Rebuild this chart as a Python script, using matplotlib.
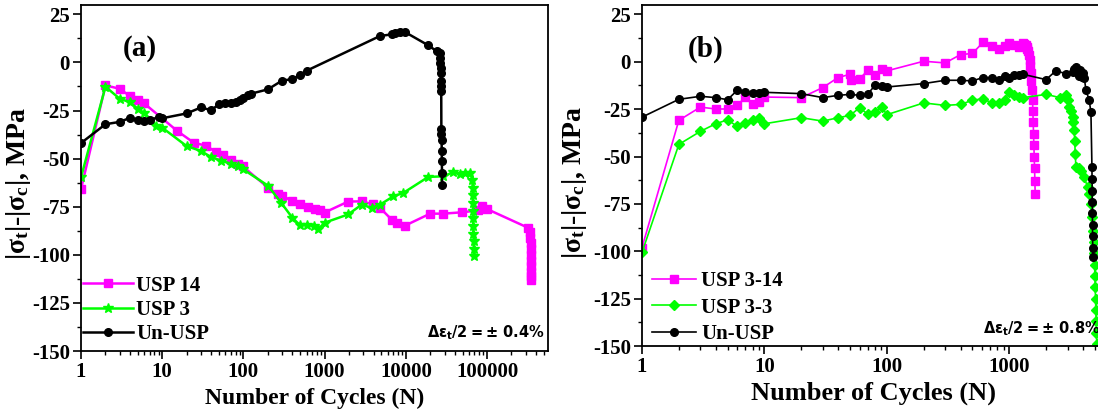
import matplotlib
matplotlib.use('Agg')
import matplotlib.pyplot as plt
from matplotlib.ticker import LogLocator, FuncFormatter, MultipleLocator, NullFormatter

plt.rcParams['font.family'] = 'Liberation Serif'
plt.rcParams['font.weight'] = 'bold'
plt.rcParams['axes.unicode_minus'] = False
plt.rcParams['mathtext.fontset'] = 'custom'
plt.rcParams['mathtext.rm'] = 'Liberation Serif:bold'
plt.rcParams['mathtext.it'] = 'Liberation Serif:bold'
plt.rcParams['mathtext.bf'] = 'Liberation Serif:bold'

MAG = '#ff00ff'
GRN = '#00ff00'

# ---- panel (a): strain amplitude 0.4 %
a_usp14_n = [1, 2, 3, 4, 5, 6, 15.4, 24.6, 34.3, 46, 56, 70, 85, 98, 200, 265, 300, 400, 500,
             620, 760, 880, 1000, 1950, 2860, 3900, 4810, 6700, 7700, 9800, 19900, 28900, 48700,
             78200, 86000, 98900, 323000, 340000, 343000, 345000, 346000, 347000, 348000,
             349000, 350000, 351000, 352000]
a_usp14_v = [-65.8, -11.9, -13.7, -17.5, -19.6, -21.3, -35.7, -41.8, -43.2, -46.6, -48, -50.6,
             -52.7, -54, -65, -68.5, -69.3, -72, -73.7, -75, -76, -76.7, -78, -72.3, -72.2,
             -73.7, -75.6, -81.7, -83.4, -84.8, -78.6, -78.6, -77.9, -76.9, -74.8, -76.1, -86,
             -88, -91, -94, -97, -100, -103, -106, -109, -111, -113]

a_usp3_n = [1, 2, 3, 4, 5, 6, 8.5, 10, 20, 30, 40, 53, 70, 85, 98, 200, 290, 400, 500, 600, 740,
            840, 1000, 1950, 2860, 3800, 4810, 7020, 9330, 18900, 28900, 38400, 46500, 53600,
            61700, 66000, 66300, 66600, 66900, 67200, 67500, 67800, 68100, 68400, 68700, 69000]
a_usp3_v = [-59.7, -12.6, -18.9, -20.6, -24.1, -26.2, -32.8, -33.9, -43.5, -46, -49.2, -51,
            -52.7, -54, -55.4, -64, -72.8, -80.7, -84.7, -84.5, -84.9, -86.5, -83.3, -79,
            -73.9, -75.6, -73.9, -69.6, -67.8, -59.5, -59.2, -57.1, -57.8, -57.4, -57.6, -60.9,
            -65, -69, -73, -77, -81, -85, -89, -93, -97, -100.8]

a_un_n = [1, 2, 3, 4, 5, 6, 7, 9, 10, 20, 30, 40, 50, 60, 70, 80, 90, 100, 115, 125, 200, 300,
          400, 500, 600, 4810, 6700, 7360, 8490, 9770, 18900, 23900, 26300, 26500, 26700,
          26900, 27000, 27100, 27200, 27300, 27400, 27500, 27600, 27700, 27800, 27900, 28000]
a_un_v = [-41.9, -32.1, -30.9, -28.8, -30, -30.4, -29.7, -28.6, -29, -26.5, -23.4, -24.8,
          -21.8, -21.3, -21.3, -20.4, -19.5, -18.3, -16.9, -16.2, -14, -9.4, -8.7, -6.4, -4.3,
          13.75, 14.6, 15.5, 15.8, 15.8, 8.9, 5.9, 5.1, 2.5, -0.1, -2.7, -5.3, -9.7, -12.3,
          -14.9, -34.8, -37.4, -40.1, -46.1, -51.4, -57.4, -63.5]

# ---- panel (b): strain amplitude 0.8 %
b_usp314_n = [1, 2, 3, 4, 5, 6, 7, 8, 9, 10, 20, 30, 40, 50, 51, 60, 70, 80, 91, 100, 200, 300,
              400, 500, 610, 720, 820, 920, 1000, 1100, 1200, 1300, 1330, 1350, 1370, 1390, 1410,
              1430, 1450, 1470, 1490, 1505, 1520, 1535, 1550, 1560, 1570, 1580, 1590, 1600,
              1610, 1620, 1630]
b_usp314_v = [-98, -30.9, -23.9, -24.9, -24.9, -23, -18.6, -22.1, -21.2, -18.6, -18.9, -13.6,
              -8.3, -6.6, -9.75, -8.9, -4.5, -7.1, -3.9, -4.8, 0.3, -0.6, 3.8, 4.4, 10.2, 8.2, 7,
              8.2, 9.7, 8.8, 7.9, 9.7, 9.5, 8.5, 9, 8, 7, 5.5, 3.5, 1, -2, -6, -10, -15, -20, -26,
              -32, -38, -44, -50, -56, -63, -70]

b_usp33_n = [1, 2, 3, 4, 5, 6, 7, 8, 9, 10, 20, 30, 40, 50, 60, 70, 80, 91, 100, 200, 300, 400,
             500, 610, 720, 820, 920, 1000, 1100, 1200, 1300, 2000, 2600, 2905, 3000, 3096, 3200,
             3296, 3350, 3397, 3430, 3462, 3506, 3700, 3850, 4100, 4370, 4500, 4650, 4760, 4860,
             4900, 4950, 4980, 5010, 5040, 5070, 5100, 5130, 5160, 5190, 5220]
b_usp33_v = [-100.6, -43.6, -36.7, -32.7, -30.6, -34.1, -32.3, -30.6, -29.5, -32.7, -29.5,
             -31.3, -29.5, -28.3, -24.2, -27.7, -26.5, -23.9, -27.9, -21.7, -23, -22.5, -20.3,
             -19.5, -21.7, -22, -20, -16, -17.3, -18.6, -18.9, -17.2, -18.9, -17.7, -20, -23.9,
             -26, -29.2, -32, -36.2, -42, -48.6, -55.6, -56, -57.4, -60.9, -66.2, -70, -75, -82,
             -89.2, -95, -101, -107, -113, -119, -125, -131, -137, -143, -149, -155]

b_un_n = [1, 2, 3, 4, 5, 6, 7, 8, 9, 10, 20, 30, 40, 50, 60, 70, 80, 91, 100, 200, 300, 400, 500,
          610, 720, 820, 920, 1000, 1100, 1200, 1300, 2000, 2400, 2900, 3300, 3400, 3500, 3600,
          3700, 3800, 3900, 4000, 4100, 4240, 4500, 4650, 4740, 4750, 4760, 4770, 4780, 4790,
          4800, 4810, 4820]
b_un_v = [-29.2, -19.8, -18.2, -18.9, -20, -15, -15.9, -16.3, -16.5, -16.1, -16.8, -18.9,
          -17.7, -17.2, -17.7, -17, -12.4, -12.7, -13.3, -11.5, -9.75, -9.75, -10.1, -8.3,
          -8.3, -9.4, -7.6, -8.3, -7.1, -7.1, -6.6, -9.4, -4.8, -6.2, -5.5, -3.6, -3, -5, -7.5,
          -4.5, -8, -6, -8.5, -15, -20.3, -26.5, -55.6, -62, -68, -74, -80, -86, -92, -98, -103]

fig = plt.figure(figsize=(10.98, 4.12), dpi=100)
ax1 = fig.add_axes([0.0738, 0.148, 0.4253, 0.8405])
ax2 = fig.add_axes([0.5847, 0.160, 0.4212, 0.828])


def style(ax, xmax, xlab_size):
    ax.set_xscale('log')
    ax.set_xlim(1, xmax)
    ax.set_ylim(-150, 30)
    ax.set_yticks(range(-150, 26, 25))
    ax.yaxis.set_minor_locator(MultipleLocator(12.5))
    ax.xaxis.set_major_locator(LogLocator(base=10))
    ax.xaxis.set_minor_locator(LogLocator(base=10, subs=range(2, 10)))
    ax.xaxis.set_major_formatter(FuncFormatter(lambda v, p: '%d' % round(v)))
    ax.xaxis.set_minor_formatter(NullFormatter())
    ax.tick_params(which='major', direction='out', length=6, width=1.2, labelsize=15, pad=2)
    ax.tick_params(which='minor', direction='out', length=3, width=1)
    for s in ax.spines.values():
        s.set_linewidth(1.3)
    ax.set_xlabel('Number of Cycles (N)', fontsize=xlab_size, fontweight='bold')
    ax.set_ylabel(r'$|\sigma_t|$-$|\sigma_c|$, MPa', fontsize=20, fontweight='bold')


style(ax1, 5.64e5, 17)
style(ax2, 6000, 19)

ax1.plot(a_usp14_n, a_usp14_v, color=MAG, marker='s', ms=5.5, lw=1.8, label='USP 14')
ax1.plot(a_usp3_n, a_usp3_v, color=GRN, marker='*', ms=7.5, lw=1.8, label='USP 3')
ax1.plot(a_un_n, a_un_v, color='black', marker='o', ms=5.5, lw=1.8, label='Un-USP')

ax2.plot(b_usp314_n, b_usp314_v, color=MAG, marker='s', ms=5.5, lw=1.2, label='USP 3-14')
ax2.plot(b_usp33_n, b_usp33_v, color=GRN, marker='D', ms=5.5, lw=1.2, label='USP 3-3')
ax2.plot(b_un_n, b_un_v, color='black', marker='o', ms=5.5, lw=1.2, label='Un-USP')

ax1.legend(loc='lower left', bbox_to_anchor=(0.005, 0.02), frameon=False, fontsize=15,
           handlelength=2.4, handletextpad=0.15, labelspacing=0.2, borderaxespad=0,
           borderpad=0)
ax2.legend(loc='lower left', bbox_to_anchor=(0.022, 0.005), frameon=False, fontsize=15,
           handlelength=2.1, handletextpad=0.25, labelspacing=0.32, borderaxespad=0,
           borderpad=0)

ax1.text(0.126, 0.873, '(a)', transform=ax1.transAxes, fontsize=21, ha='center', va='center')
ax2.text(0.137, 0.871, '(b)', transform=ax2.transAxes, fontsize=21, ha='center', va='center')

ax1.text(0.994, 0.041, r'$\mathbf{\Delta\varepsilon_t/2{=}}{\pm}\mathbf{\ 0.4\%}$',
         transform=ax1.transAxes, fontsize=10.5, ha='right', va='baseline',
         math_fontfamily='dejavusans')
ax2.text(0.738, 0.036, r'$\mathbf{\Delta\varepsilon_t/2{=}}{\pm}\mathbf{\ 0.8\%}$',
         transform=ax2.transAxes, fontsize=10.5, ha='left', va='baseline',
         math_fontfamily='dejavusans')

ax1.yaxis.set_label_coords(-0.103, 0.484)
ax2.yaxis.set_label_coords(-0.115, 0.478)
ax1.xaxis.set_label_coords(0.501, -0.105)
ax2.xaxis.set_label_coords(0.4995, -0.105)

fig.savefig('out.png', dpi=100)
